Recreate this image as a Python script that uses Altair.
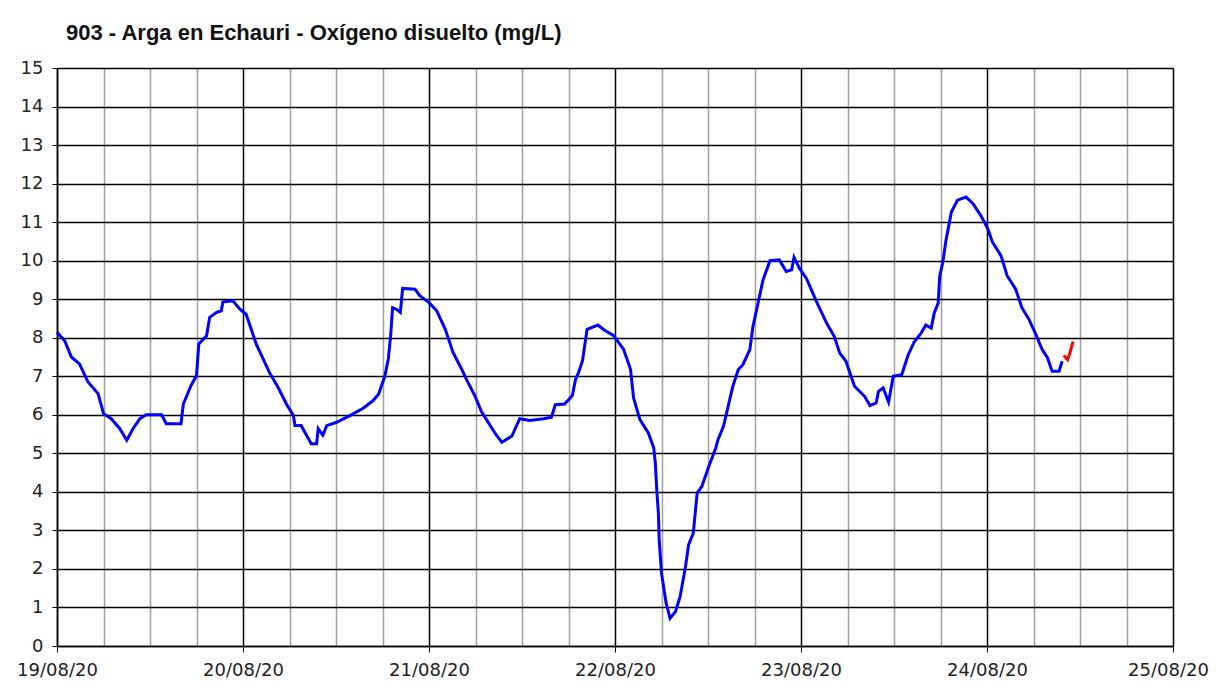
import json
import altair as alt
import pandas as pd

# Hours since 19/08/20 00:00 and dissolved oxygen (mg/L)
blue_hours = [0, 1, 1.85, 2.9, 4, 5.3, 6, 7, 8.1, 9, 9.8, 10.7, 11.5, 13.5, 14.1, 16, 16.3, 17.3, 18, 18.3,
              19.3, 19.7, 20.6, 21.2, 21.4, 22.7, 23.6, 24.4, 25.7, 27.4, 28.5, 29.6, 30.5, 30.7, 31.5, 32.8,
              33.5, 33.7, 34.3, 34.8, 36, 37.8, 39.5, 40.8, 41.5, 42.3, 42.75, 43.05, 43.3, 43.8, 44.3, 44.6,
              46.2, 46.8, 48, 49, 50.1, 51.1, 52.2, 52.8, 53.9, 54.8, 55.9, 56.7, 57.4, 58.7, 59.7, 61, 62.8,
              63.8, 64.3, 65.5, 66.5, 66.9, 67.3, 67.8, 68.4, 69.8, 70.6, 71.8, 73.1, 74.0, 74.4, 75.2, 76.3,
              77, 77.2, 77.4, 77.6, 77.7, 78, 78.6, 79.1, 79.8, 80.4, 81.1, 81.5, 82.1, 82.6, 83.2, 84.1, 85,
              85.3, 86, 86.4, 87.2, 87.9, 88.5, 89.4, 89.8, 90.5, 91.1, 92, 93.2, 94.1, 94.8, 95.1, 95.8,
              96.7, 98, 99.3, 100.3, 101, 101.8, 102.9, 104.2, 104.9, 105.7, 106, 106.6, 107.3, 107.9, 109,
              109.8, 110.6, 111.5, 112.1, 112.8, 113.2, 113.7, 113.9, 114.3, 114.7, 115.4, 116.2, 117.3,
              118.2, 119.2, 120.1, 120.7, 121.8, 122.6, 123.7, 124.5, 125.4, 126.3, 127.1, 127.8, 128.4,
              129.3, 129.7]
blue_values = [8.14, 7.92, 7.5, 7.32, 6.85, 6.55, 6.03, 5.9, 5.64, 5.34, 5.64, 5.9, 6.0, 6.0, 5.77, 5.77, 6.28,
               6.76, 7.02, 7.84, 8.05, 8.53, 8.66, 8.7, 8.93, 8.96, 8.74, 8.61, 7.84, 7.1, 6.72, 6.28, 5.98,
               5.72, 5.72, 5.25, 5.25, 5.64, 5.47, 5.72, 5.8, 5.98, 6.17, 6.37, 6.54, 7.0, 7.45, 8.05, 8.78,
               8.74, 8.66, 9.28, 9.26, 9.09, 8.91, 8.7, 8.22, 7.62, 7.19, 6.93, 6.5, 6.07, 5.72, 5.47, 5.29,
               5.45, 5.9, 5.85, 5.9, 5.94, 6.26, 6.28, 6.5, 6.91, 7.1, 7.4, 8.22, 8.33, 8.2, 8.06, 7.7, 7.18,
               6.44, 5.88, 5.53, 5.14, 4.75, 4.01, 3.45, 2.76, 1.89, 1.11, 0.72, 0.89, 1.28, 2.06, 2.63, 2.93,
               3.97, 4.14, 4.66, 5.14, 5.36, 5.7, 6.05, 6.74, 7.17, 7.3, 7.69, 8.29, 8.94, 9.5, 10.0, 10.02,
               9.72, 9.76, 10.09, 9.8, 9.54, 8.94, 8.38, 8.03, 7.6, 7.39, 6.74, 6.48, 6.24, 6.31, 6.61, 6.7,
               6.33, 7.0, 7.04, 7.54, 7.89, 8.12, 8.33, 8.25, 8.65, 8.9, 9.6, 9.96, 10.52, 11.26, 11.57, 11.65,
               11.48, 11.17, 10.83, 10.48, 10.13, 9.61, 9.26, 8.78, 8.48, 8.09, 7.7, 7.48, 7.13, 7.13, 7.39]
red_hours = [129.9, 130.4, 130.7, 131.1]
red_values = [7.54, 7.43, 7.61, 7.9]

day_labels = ["19/08/20", "20/08/20", "21/08/20", "22/08/20", "23/08/20", "24/08/20", "25/08/20"]
y_ticks = list(range(0, 16))
last_hour = 24 * (len(day_labels) - 1)
x_grid = list(range(0, last_hour + 1, 6))

df = pd.concat([
    pd.DataFrame({"h": blue_hours, "v": blue_values, "serie": "validado"}),
    pd.DataFrame({"h": red_hours, "v": red_values, "serie": "provisional"}),
])

label_expr = "datum.value % 24 === 0 ? " + json.dumps(day_labels) + "[datum.value / 24] : ''"

x_axis = alt.Axis(
    values=x_grid,
    labelExpr=label_expr,
    title=None,
    grid=True,
    gridColor={"condition": {"test": "datum.value % 24 === 0", "value": "#000000"}, "value": "#A0A0A0"},
    gridWidth=1.5,
    tickOpacity={"condition": {"test": "datum.value % 24 === 0", "value": 1}, "value": 0},
    tickSize=6,
    tickColor="#000000",
    domainColor="#000000",
    domainWidth=1.5,
    labelPadding=9,
    labelOffset={"condition": {"test": f"datum.value === {last_hour}", "value": -5}, "value": 0},
    labelFont="DejaVu Sans",
    labelFontSize=18,
    labelColor="#222222",
    labelOverlap=False,
    labelFlush=False,
)

y_axis = alt.Axis(
    values=y_ticks,
    title=None,
    grid=True,
    gridColor="#000000",
    gridWidth=1.3,
    tickSize=5,
    tickColor="#000000",
    domainColor="#000000",
    domainWidth=1.5,
    labelPadding=9,
    labelFont="DejaVu Sans",
    labelFontSize=18,
    labelColor="#222222",
)

chart = alt.Chart(df).mark_line(strokeWidth=3, interpolate="linear").encode(
    x=alt.X("h:Q", scale=alt.Scale(domain=[0, last_hour], nice=False, zero=False), axis=x_axis),
    y=alt.Y("v:Q", scale=alt.Scale(domain=[0, 15], nice=False), axis=y_axis),
    color=alt.Color("serie:N", scale=alt.Scale(domain=["validado", "provisional"],
                                                range=["#0000FF", "#FF0000"]), legend=None),
    detail="serie:N",
).properties(
    width=1116,
    height=578,
    title=alt.TitleParams(
        "903 - Arga en Echauri - Oxígeno disuelto (mg/L)",
        anchor="start",
        frame="group",
        dx=9,
        offset=14,
        font="Liberation Sans",
        fontSize=22,
        fontWeight="bold",
        color="#111111",
    ),
    autosize=alt.AutoSizeParams(type="none"),
    padding={"left": 49, "top": 60, "right": 36, "bottom": 36},
).configure_view(
    fill="#CCFFFF",
    stroke="#808080",
    strokeWidth=1.5,
).configure(background="white")

chart.save("out.html", embed_options={"renderer": "svg", "actions": False})
